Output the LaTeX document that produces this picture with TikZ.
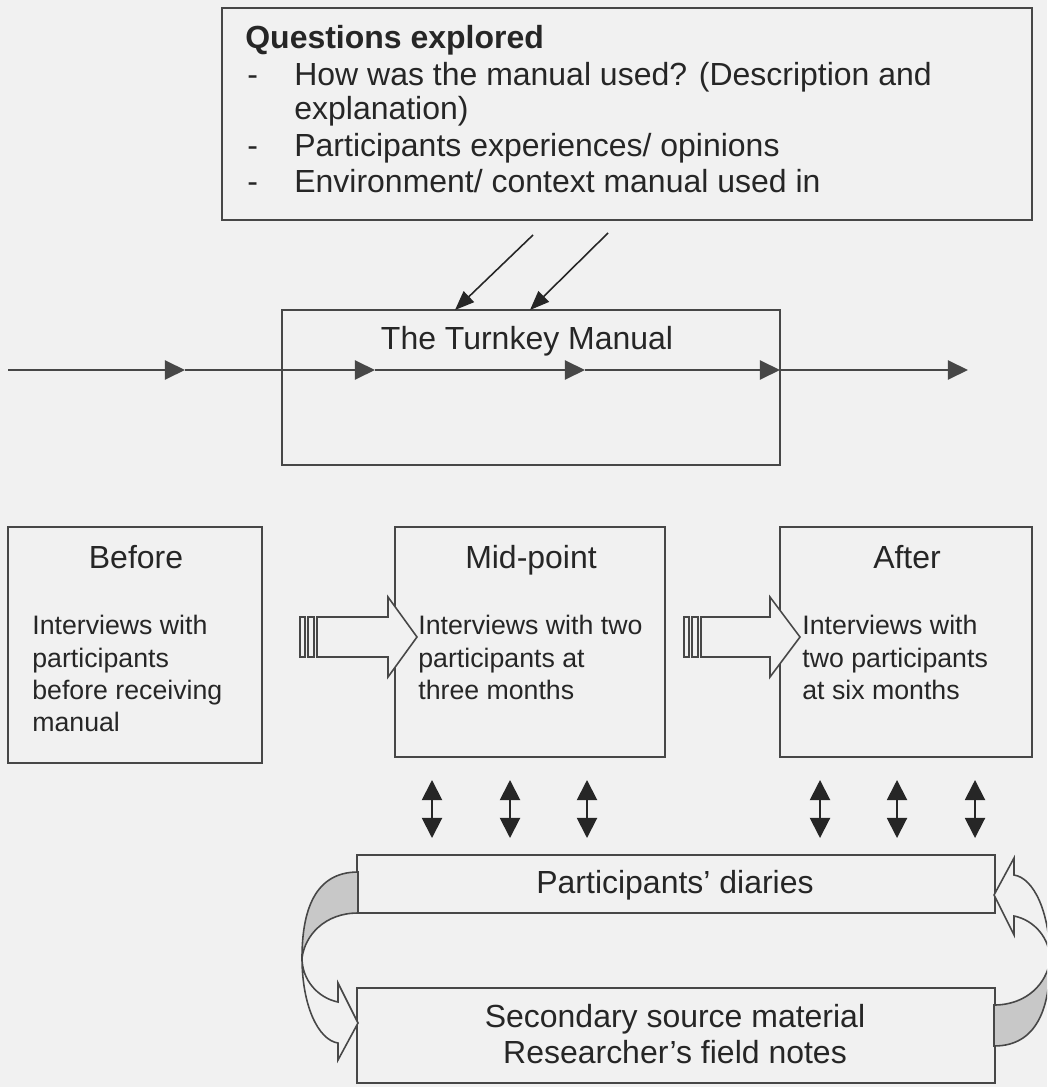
\documentclass[tikz,border=0pt]{standalone}
\usepackage{fontspec}
\setmainfont{Liberation Sans}
\usetikzlibrary{arrows.meta,fit}
\definecolor{paper}{HTML}{F1F1F1}
\definecolor{ink}{HTML}{474747}
\definecolor{txt}{HTML}{262626}
\definecolor{shade}{HTML}{C8C8C8}
\begin{document}
\begin{tikzpicture}[x=0.02cm,y=-0.02cm,
  box/.style={draw=ink, line width=1.1pt, inner sep=0pt, fill=paper},
  lbl/.style={text=txt, font=\fontsize{18.2}{21}\selectfont, inner sep=0pt},
  body/.style={lbl, font=\fontsize{15.2}{18}\selectfont, anchor=base west},
  lblw/.style={lbl, anchor=base west},
  lblc/.style={lbl, anchor=base},
  timeline/.style={draw=ink, line width=1.2pt, -{Triangle[length=11.4pt,width=10.8pt]}},
  feed/.style={draw=txt, line width=0.9pt, -{Triangle[length=11pt,width=8.5pt]}},
  linkarrow/.style={draw=txt, line width=1.1pt,
    {Triangle[length=11.4pt,width=11.4pt]}-{Triangle[length=11.4pt,width=11.4pt]}},
  blockarrow/.style={draw=ink, fill=paper, line width=0.9pt, line join=miter},
  ribbon/.style={draw=ink, line width=0.9pt, line join=miter}]

% background and page size
\path[fill=paper] (0,0) rectangle (1047,1087);
\useasboundingbox (0,0) rectangle (1047,1087);

% ---------- questions box ----------
\node[box, fit={(222,8) (1032,220)}] (questions) {};
\node[lblw, font=\fontsize{18.2}{21}\selectfont\bfseries] (qtitle) at (245,49) {Questions explored};
\node[lblw] (qd1) at (247,86) {-};
\node[lblw] (qi1) at (294,86) {How was the manual used? (Description and};
\node[lblw] (qi1b) at (294,120) {explanation)};
\node[lblw] (qd2) at (247,157) {-};
\node[lblw] (qi2) at (294,157) {Participants experiences/ opinions};
\node[lblw] (qd3) at (247,193) {-};
\node[lblw] (qi3) at (294,193) {Environment/ context manual used in};

% ---------- turnkey manual box ----------
\node[box, fit={(282,310) (780,465)}] (manual) {};
\node[lblc] (manualtext) at (527,350) {The Turnkey Manual};

% arrows from the questions into the manual
\coordinate (f1s) at (533,235);
\coordinate (f1e) at (455,310);
\coordinate (f2s) at (608,233);
\coordinate (f2e) at (530,310);
\draw[feed] (f1s) -- (f1e);
\draw[feed] (f2s) -- (f2e);

% time line through the manual
\coordinate (t0) at (8,370);
\coordinate (t1) at (185,370);
\coordinate (t2) at (375,370);
\coordinate (t3) at (585,370);
\coordinate (t4) at (780,370);
\coordinate (t5) at (968,370);
\draw[timeline] (t0) -- (t1);
\draw[timeline] (t1) -- (t2);
\draw[timeline] (t2) -- (t3);
\draw[timeline] (t3) -- (t4);
\draw[timeline] (t4) -- (t5);

% ---------- three stages ----------
\node[box, fit={(8,527) (262,763)}] (before) {};
\node[lblc] (beforetitle) at (136,568) {Before};
\node[body] (b1) at (32,634) {Interviews with};
\node[body] (b2) at (32,667) {participants};
\node[body] (b3) at (32,699) {before receiving};
\node[body] (b4) at (32,731) {manual};

\node[box, fit={(395,527) (665,757)}] (mid) {};
\node[lblc] (midtitle) at (531,568) {Mid-point};
\node[body] (m1) at (418,634) {Interviews with two};
\node[body] (m2) at (418,667) {participants at};
\node[body] (m3) at (418,699) {three months};

\node[box, fit={(780,527) (1032,757)}] (after) {};
\node[lblc] (aftertitle) at (907,568) {After};
\node[body] (a1) at (802,634) {Interviews with};
\node[body] (a2) at (802,667) {two participants};
\node[body] (a3) at (802,699) {at six months};

% striped block arrows between the stages
\draw[blockarrow] (300,617) rectangle (305,657);
\draw[blockarrow] (308,617) rectangle (314,657);
\draw[blockarrow] (317,617) -- (388,617) -- (388,597) -- (417,637)
  -- (388,677) -- (388,657) -- (317,657) -- cycle;
\draw[blockarrow] (684,617) rectangle (689,657);
\draw[blockarrow] (692,617) rectangle (698,657);
\draw[blockarrow] (701,617) -- (770,617) -- (770,597) -- (800,637)
  -- (770,677) -- (770,657) -- (701,657) -- cycle;

% ---------- diaries and secondary sources ----------
\node[box, fit={(357,855) (995,913)}] (diaries) {};
\node[lblc] (diariestext) at (675,893) {Participants' diaries};
\node[box, fit={(357,988) (995,1083)}] (secondary) {};
\node[lblc] (sec1) at (675,1027) {Secondary source material};
\node[lblc] (sec2) at (675,1063) {Researcher's field notes};

% two-way links between interviews and diaries
\foreach \x [count=\i] in {432,510,587,820,897,975} {
  \coordinate (lu\i) at (\x,780);
  \coordinate (ld\i) at (\x,838);
  \draw[linkarrow] (lu\i) -- (ld\i);
}

% curved ribbon arrows between diaries and secondary sources
\begin{scope}
\clip (0,0) rectangle (1047,1087);
\foreach \r in {0,180} {
  \begin{scope}[rotate around={\r:(676,959)}]
    \draw[ribbon, fill=shade] (358,872) .. controls (315,872) and (302,910) .. (302,958)
      .. controls (305,935) and (325,913) .. (358,913) -- cycle;
    \draw[ribbon, fill=paper] (302,958) .. controls (302,1005) and (318,1040) .. (338,1043)
      -- (338,1060) -- (358,1023) -- (338,983) -- (338,1002)
      .. controls (318,998) and (302,980) .. (302,958) -- cycle;
  \end{scope}
}
\end{scope}
\end{tikzpicture}
\end{document}
